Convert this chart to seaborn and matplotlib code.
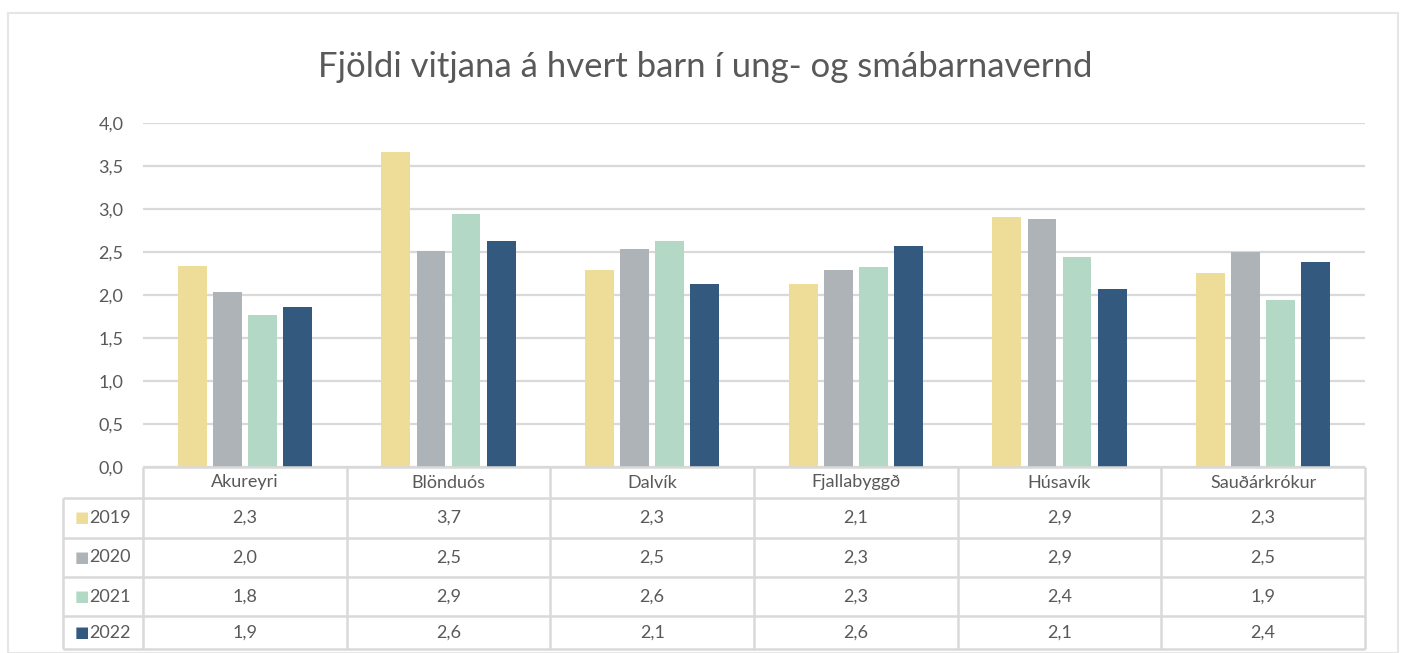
import pandas as pd
import numpy as np
import matplotlib
matplotlib.use("Agg")
import matplotlib.pyplot as plt
import matplotlib.transforms as mtransforms
from matplotlib.patches import Rectangle
import seaborn as sns

# gögn lesin af myndinni
stadir = ["Akureyri", "Blönduós", "Dalvík", "Fjallabyggð", "Húsavík", "Sauðárkrókur"]
ar = ["2019", "2020", "2021", "2022"]
v2019 = [2.34, 3.66, 2.29, 2.13, 2.91, 2.26]
v2020 = [2.04, 2.51, 2.54, 2.29, 2.88, 2.50]
v2021 = [1.77, 2.94, 2.63, 2.32, 2.44, 1.94]
v2022 = [1.86, 2.63, 2.13, 2.57, 2.07, 2.38]
litir = ["#EEDD99", "#AEB3B8", "#B3D9C6", "#335A7E"]
titill = "Fjöldi vitjana á hvert barn í ung- og smábarnavernd"

gildi = [v2019, v2020, v2021, v2022]
df = pd.DataFrame({
    "stadur": stadir * 4,
    "ar": np.repeat(ar, len(stadir)),
    "gildi": v2019 + v2020 + v2021 + v2022,
})

sns.set_style("white")
plt.rcParams["font.family"] = ["Lato", "DejaVu Sans"]
textalitur = "#595959"
linulitur = "#D9D9D9"

W, H = 1405, 653
fig = plt.figure(figsize=(W / 100, H / 100), dpi=100)
# ytri rammi
fig.patches.append(Rectangle((8 / W, 0), (1398 - 8) / W, 1 - 13 / H, transform=fig.transFigure,
                             fill=False, edgecolor="#E6E6E6", linewidth=1.5))

ax = fig.add_axes([143 / W, 1 - 467 / H, (1365 - 143) / W, (467 - 123) / H])
sns.barplot(data=df, x="stadur", y="gildi", hue="ar", palette=litir, order=stadir, hue_order=ar,
            width=0.69, gap=0.18, ax=ax, legend=False, saturation=1, edgecolor="none")

ax.set_xlim(-0.5, len(stadir) - 0.5)
ax.set_ylim(0, 4.0)
yt = np.arange(0, 4.01, 0.5)
ax.set_yticks(yt)
ax.set_yticklabels([f"{t:.1f}".replace(".", ",") for t in yt], color=textalitur, fontsize=13)
ax.tick_params(axis="y", length=0, pad=14)
ax.set_xticks([])
ax.set_xlabel("")
ax.set_ylabel("")
for s in ax.spines.values():
    s.set_visible(False)
ax.grid(axis="y", color=linulitur, linewidth=1.6)
ax.set_axisbelow(True)

fig.text(705 / W, 1 - 67 / H, titill, ha="center", va="center", fontsize=25, color=textalitur)

# gagnatafla undir ásnum
tr = mtransforms.blended_transform_factory(ax.transData, ax.transAxes)
ax_h = 467 - 123
radir_px = [467, 498, 538, 577, 616, 649]
radir = [-(y - 467) / ax_h for y in radir_px]
vinstri = -0.5 + (63 - 143) / 204
haegri = len(stadir) - 0.5
lw = 1.8

def lina(x, y):
    ax.plot(x, y, color=linulitur, linewidth=lw, transform=tr, clip_on=False, solid_capstyle="butt")

for i, y in enumerate(radir):
    x0 = -0.5 if i == 0 else vinstri
    lina([x0, haegri], [y, y])
for j in range(len(stadir) + 1):
    lina([j - 0.5, j - 0.5], [radir[0], radir[-1]])
lina([vinstri, vinstri], [radir[1], radir[-1]])

for j, st in enumerate(stadir):
    ax.text(j, (radir[0] + radir[1]) / 2, st, transform=tr, ha="center", va="center",
            fontsize=13, color=textalitur, clip_on=False)

for i, a in enumerate(ar):
    ym = (radir[i + 1] + radir[i + 2]) / 2
    for j in range(len(stadir)):
        ax.text(j, ym, f"{gildi[i][j]:.1f}".replace(".", ","), transform=tr, ha="center",
                va="center", fontsize=13, color=textalitur, clip_on=False)
    # litaður ferningur og ártal
    ax.text(vinstri + 0.09, ym, "■", transform=tr, ha="center", va="center", fontsize=11,
            color=litir[i], clip_on=False, family="DejaVu Sans")
    ax.text(vinstri + 0.13, ym, a, transform=tr, ha="left", va="center", fontsize=13,
            color=textalitur, clip_on=False)

fig.savefig("out.png", dpi=100)
